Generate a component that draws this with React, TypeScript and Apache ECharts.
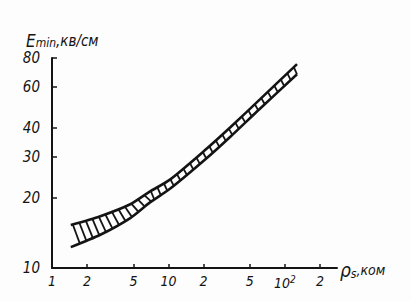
import React, { useEffect, useRef } from "react";
import * as echarts from "echarts";

// ρs, kOhm (log scale)
const resistivity = [1.45, 2.6, 4.7, 6.9, 10.3, 21, 34, 61, 127];
// Emin upper / lower bounds of the band, kV/cm
const eUpper = [15.3, 16.7, 18.8, 21.3, 24.0, 32.4, 40.3, 53.1, 75.3];
const eLower = [12.3, 13.9, 16.4, 19.1, 21.9, 29.5, 36.7, 48.4, 68.1];

const xTicks = [1, 2, 5, 10, 20, 50, 100, 200];
const xTickLabels = ["1", "2", "5", "10", "2", "5", "10{sup|2}", "2"];
const yTicks = [10, 20, 30, 40, 60, 80];
const yTickLabels = ["10", "20", "30", "40", "60", "80"];

const INK = "#141414";
const FONT = "'DejaVu Sans Condensed', 'Liberation Sans Narrow', 'DejaVu Sans', sans-serif";

function labelFor(ticks: number[], labels: string[], v: number) {
  for (let i = 0; i < ticks.length; i++) {
    if (Math.abs(v - ticks[i]) < ticks[i] * 1e-6) return labels[i];
  }
  return "";
}

export default function App() {
  const ref = useRef<HTMLDivElement>(null);
  useEffect(() => {
    if (!ref.current) return;
    const chart = echarts.init(ref.current, null, { renderer: "svg" });
    const upperData = resistivity.map((x, i) => [x, eUpper[i]]);
    const lowerData = resistivity.map((x, i) => [x, eLower[i]]);
    const option: any = {
      animation: false,
      backgroundColor: "#fdfdfd",
      title: {
        text: "{e|E}{sub|min}{t|,кв/см}",
        left: 21,
        top: 27,
        textStyle: {
          fontWeight: "normal",
          rich: {
            e: { fontSize: 17, fontStyle: "italic", fontWeight: "normal", fontFamily: FONT, color: INK },
            sub: { fontSize: 12, fontStyle: "italic", fontWeight: "normal", fontFamily: FONT, color: INK, verticalAlign: "bottom", padding: [4, 0, 0, 0] },
            t: { fontSize: 15, fontStyle: "italic", fontWeight: "normal", fontFamily: FONT, color: INK },
          },
        },
      },
      grid: { left: 52, top: 58, width: 285, height: 210, containLabel: false },
      xAxis: {
        type: "log",
        logBase: 10,
        min: 1,
        max: 280,
        name: "{r|ρ}{s|s}{t|,ком}",
        nameLocation: "end",
        nameGap: 3,
        nameTextStyle: {
          verticalAlign: "middle",
          padding: [4, 0, 0, 0],
          rich: {
            r: { fontSize: 19, fontStyle: "italic", fontFamily: FONT, color: INK },
            s: { fontSize: 12, fontStyle: "italic", fontFamily: FONT, color: INK, verticalAlign: "bottom", padding: [8, 0, 0, 0] },
            t: { fontSize: 14, fontStyle: "italic", fontFamily: FONT, color: INK },
          },
        },
        axisLine: { show: true, lineStyle: { color: INK, width: 2 } },
        axisTick: { show: true, inside: true, length: 4, customValues: xTicks, lineStyle: { color: INK, width: 1.5 } },
        axisLabel: {
          customValues: xTicks,
          margin: 6,
          fontSize: 14,
          fontStyle: "italic",
          fontFamily: FONT,
          color: INK,
          formatter: (v: number) => labelFor(xTicks, xTickLabels, v),
          rich: {
            sup: { fontSize: 10, fontStyle: "italic", fontFamily: FONT, color: INK, verticalAlign: "top", padding: [0, 0, 8, 0] },
          },
        },
        splitLine: { show: false },
        minorTick: { show: false },
      },
      yAxis: {
        type: "log",
        logBase: 10,
        min: 10,
        max: 80,
        axisLine: { show: true, lineStyle: { color: INK, width: 2 } },
        axisTick: { show: true, inside: true, length: 5, customValues: yTicks, lineStyle: { color: INK, width: 1.5 } },
        axisLabel: {
          customValues: yTicks,
          margin: 12,
          fontSize: 15,
          fontStyle: "italic",
          fontFamily: FONT,
          color: INK,
          formatter: (v: number) => labelFor(yTicks, yTickLabels, v),
        },
        splitLine: { show: false },
      },
      series: [
        {
          type: "line",
          data: upperData,
          symbol: "none",
          smooth: 0.25,
          lineStyle: { color: INK, width: 2.6 },
          z: 3,
        },
        {
          type: "line",
          data: lowerData,
          symbol: "none",
          smooth: 0.25,
          lineStyle: { color: INK, width: 2.6 },
          z: 3,
        },
        {
          type: "custom",
          coordinateSystem: "cartesian2d",
          clip: false,
          z: 2,
          data: [[resistivity[0], eUpper[0]]],
          renderItem: (_params: any, api: any) => {
            const up = upperData.map((d) => api.coord(d));
            const lo = lowerData.map((d) => api.coord(d));
            const interp = (pts: number[][], px: number) => {
              for (let i = 0; i < pts.length - 1; i++) {
                const a = pts[i];
                const b = pts[i + 1];
                if (px >= a[0] && px <= b[0]) {
                  const t = (px - a[0]) / (b[0] - a[0]);
                  return a[1] + t * (b[1] - a[1]);
                }
              }
              return pts[pts.length - 1][1];
            };
            const x0 = up[0][0];
            const x1 = up[up.length - 1][0];
            const children: any[] = [];
            const mid = api.coord([7, 20])[0];
            for (let px = x0 + 2; px < x1 - 2; px += 6.5) {
              const slant = px < mid ? 7 : 3.5;
              const px2 = Math.min(px + slant, x1);
              children.push({
                type: "line",
                shape: { x1: px, y1: interp(up, px), x2: px2, y2: interp(lo, px2) },
                style: { stroke: INK, lineWidth: 1.8 },
              });
            }
            return { type: "group", children };
          },
        },
      ],
    };
    chart.setOption(option);
    return () => chart.dispose();
  }, []);
  return (
    <div
      ref={ref}
      style={{ position: "fixed", left: 0, top: 0, width: 411, height: 301 }}
    />
  );
}
